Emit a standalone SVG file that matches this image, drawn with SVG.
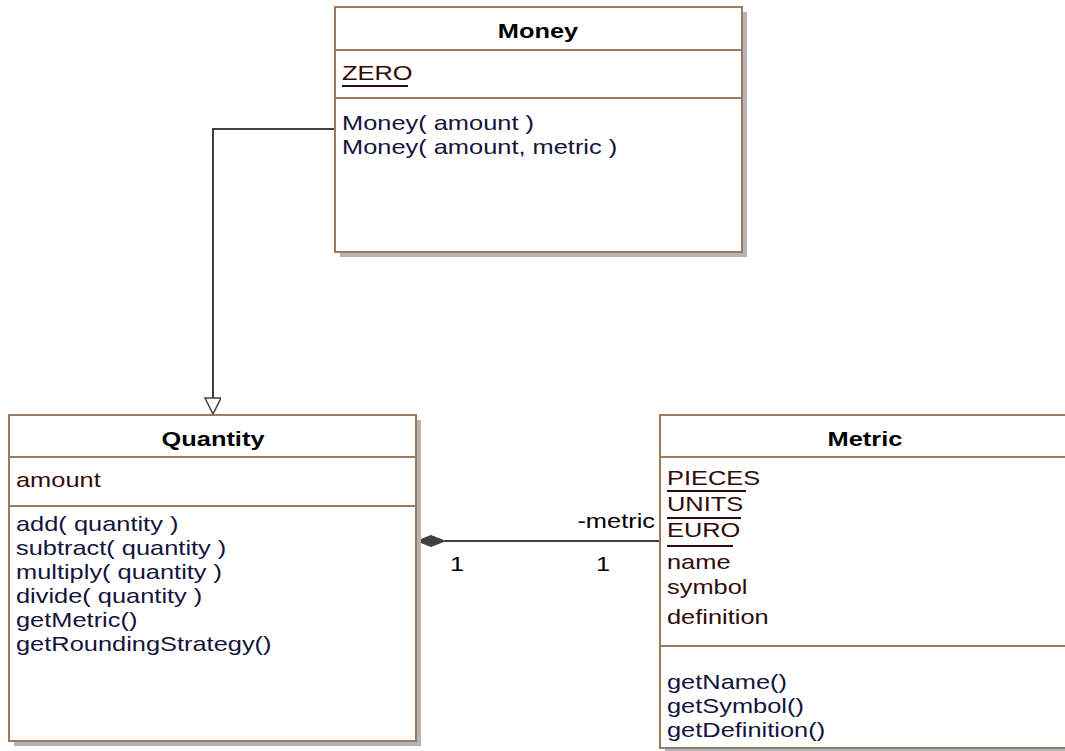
<svg xmlns="http://www.w3.org/2000/svg" width="1065" height="751" viewBox="0 0 1065 751">
<style>
.shadow{fill:#b4b4b4;stroke:none}
.box{fill:#ffffff;stroke:#9a7b5f;stroke-width:2}
.sep{stroke:#9a7b5f;stroke-width:2}
.title{font-family:"Liberation Sans",Arial,sans-serif;font-size:21px;font-weight:bold;fill:#000000;text-anchor:middle}
.attr{font-family:"Liberation Sans",Arial,sans-serif;font-size:21px;fill:#330a0a}
.op{font-family:"Liberation Sans",Arial,sans-serif;font-size:21px;fill:#14143c}
.ul{stroke:#330a0a;stroke-width:2}
.conn{fill:none;stroke:#404040;stroke-width:2}
.lbl{font-family:"Liberation Sans",Arial,sans-serif;font-size:21px;fill:#000000}
</style>
<defs>
<marker id="gen" markerWidth="18" markerHeight="18" refX="17" refY="8" orient="auto" markerUnits="userSpaceOnUse">
<path d="M1,0 L17,8 L1,16 Z" fill="#ffffff" stroke="#404040" stroke-width="1.5"/>
</marker>
</defs>
<g id="connectors">
<path class="conn" d="M335,129 H213 V414" marker-end="url(#gen)"/>
<path class="conn" d="M445,541 H660"/>
<path d="M417,541 L431,535.5 L445,541 L431,546.5 Z" fill="#404040" stroke="#404040" stroke-width="1"/>
<text class="lbl" transform="translate(655,528) scale(1.21,1)" text-anchor="end">-metric</text>
<text class="lbl" transform="translate(450,571) scale(1.21,1)">1</text>
<text class="lbl" transform="translate(596,571) scale(1.21,1)">1</text>
</g>
<g id="Money">
<rect class="shadow" x="340" y="12" width="407" height="245"/>
<rect class="box" x="335" y="7" width="407" height="245"/>
<line class="sep" x1="335" y1="50" x2="742" y2="50"/>
<line class="sep" x1="335" y1="98" x2="742" y2="98"/>
<text class="title" transform="translate(538,38) scale(1.21,1)">Money</text>
<text class="attr" transform="translate(342,80) scale(1.21,1)">ZERO</text>
<line class="ul" x1="342" y1="86" x2="408" y2="86"/>
<text class="op" transform="translate(342,130) scale(1.21,1)">Money( amount )</text>
<text class="op" transform="translate(342,154) scale(1.21,1)">Money( amount, metric )</text>
</g>
<g id="Quantity">
<rect class="shadow" x="14" y="420" width="407" height="326"/>
<rect class="box" x="9" y="415" width="407" height="326"/>
<line class="sep" x1="9" y1="457" x2="416" y2="457"/>
<line class="sep" x1="9" y1="506" x2="416" y2="506"/>
<text class="title" transform="translate(213,446) scale(1.21,1)">Quantity</text>
<text class="attr" transform="translate(16,487) scale(1.21,1)">amount</text>
<text class="op" transform="translate(16,531) scale(1.21,1)">add( quantity )</text>
<text class="op" transform="translate(16,555) scale(1.21,1)">subtract( quantity )</text>
<text class="op" transform="translate(16,579) scale(1.21,1)">multiply( quantity )</text>
<text class="op" transform="translate(16,603) scale(1.21,1)">divide( quantity )</text>
<text class="op" transform="translate(16,627) scale(1.21,1)">getMetric()</text>
<text class="op" transform="translate(16,651) scale(1.21,1)">getRoundingStrategy()</text>
</g>
<g id="Metric">
<rect class="shadow" x="665" y="420" width="420" height="340"/>
<rect class="box" x="660" y="415" width="420" height="333"/>
<line class="sep" x1="660" y1="457" x2="1080" y2="457"/>
<line class="sep" x1="660" y1="646" x2="1080" y2="646"/>
<text class="title" transform="translate(865,446) scale(1.21,1)">Metric</text>
<text class="attr" transform="translate(667,485) scale(1.21,1)">PIECES</text>
<line class="ul" x1="667" y1="491" x2="746" y2="491"/>
<text class="attr" transform="translate(667,511) scale(1.21,1)">UNITS</text>
<line class="ul" x1="667" y1="518" x2="741" y2="518"/>
<text class="attr" transform="translate(667,537) scale(1.21,1)">EURO</text>
<line class="ul" x1="667" y1="546" x2="733" y2="546"/>
<text class="attr" transform="translate(667,569) scale(1.21,1)">name</text>
<text class="attr" transform="translate(667,594) scale(1.21,1)">symbol</text>
<text class="attr" transform="translate(667,624) scale(1.21,1)">definition</text>
<text class="op" transform="translate(667,689) scale(1.21,1)">getName()</text>
<text class="op" transform="translate(667,713) scale(1.21,1)">getSymbol()</text>
<text class="op" transform="translate(667,737) scale(1.21,1)">getDefinition()</text>
</g>
</svg>
